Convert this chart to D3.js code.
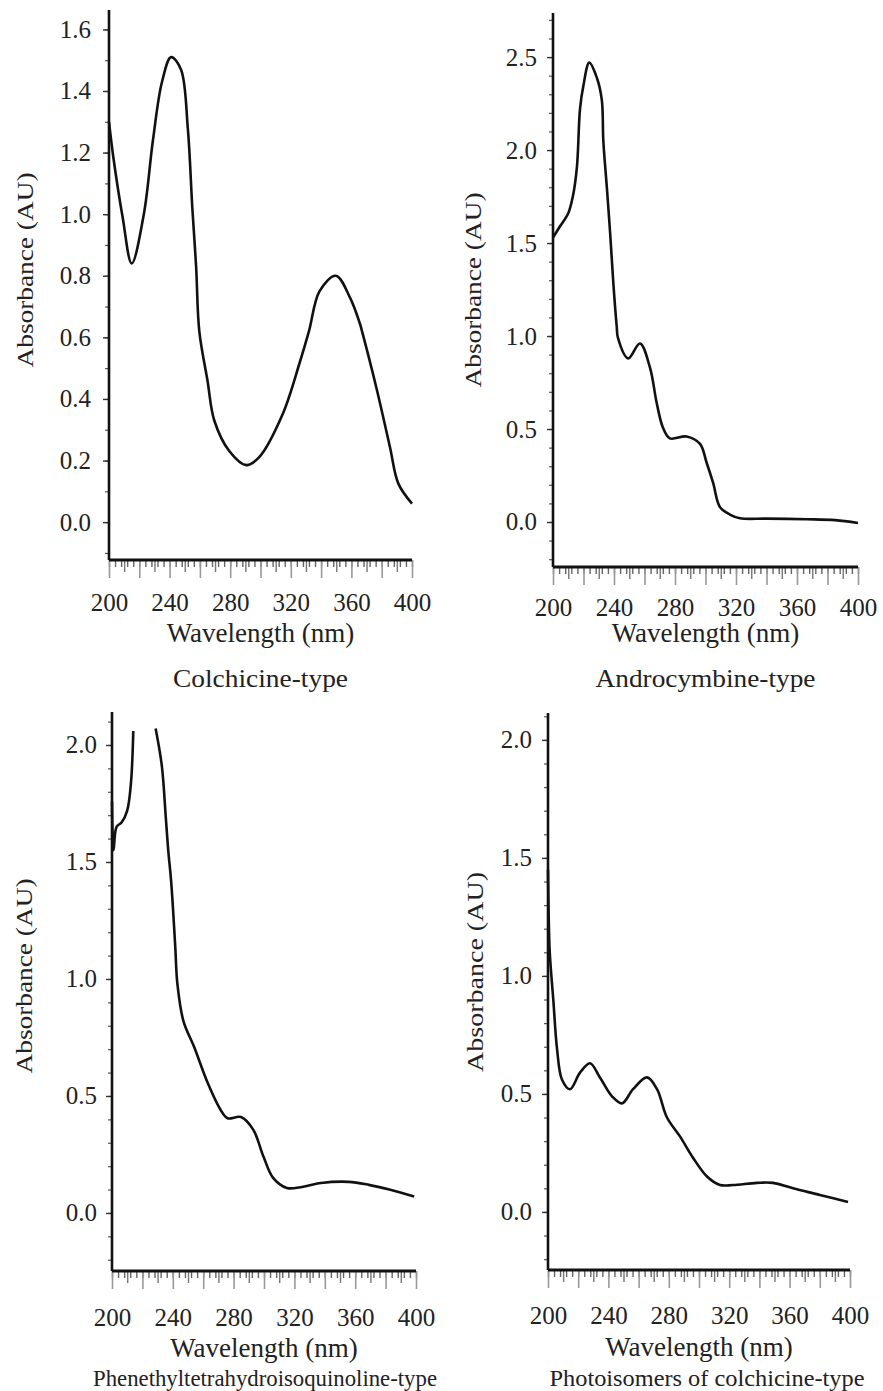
<!DOCTYPE html>
<html>
<head>
<meta charset="utf-8">
<script src="https://cdn.jsdelivr.net/npm/d3@7"></script>
<style>
body { margin: 0; background: #fff; }
svg text { font-family: "Liberation Serif", "Times New Roman", serif; fill: #222; }
</style>
</head>
<body>
<div id="chart"></div>
<script>
// spectra: wavelength (nm) and absorbance (AU)
var colchicineWl  = [200, 203, 209, 215, 223, 229, 235, 241, 247.5, 252, 255, 257.5, 259.6, 265, 269.5, 279.5, 290.5, 299, 314.6, 326, 332, 339, 349.7, 359, 365.6, 367, 376.8, 385.4, 391, 400];
var colchicineAbs = [1.30, 1.18, 0.99, 0.84, 1.00, 1.24, 1.43, 1.51, 1.47, 1.28, 1.02, 0.83, 0.62, 0.46, 0.33, 0.23, 0.185, 0.21, 0.35, 0.52, 0.62, 0.75, 0.80, 0.73, 0.645, 0.62, 0.43, 0.245, 0.125, 0.06];

var androWl  = [200, 204.6, 210, 213, 215.7, 217.7, 219.8, 223.8, 228.7, 232, 233, 235.3, 237.5, 239.6, 241.8, 242.6, 249.3, 257, 263.6, 268, 272, 276.6, 287.6, 296.4, 300.7, 305, 309.5, 316, 322.6, 340, 366.6, 385, 400];
var androAbs = [1.53, 1.59, 1.66, 1.75, 1.91, 2.22, 2.34, 2.47, 2.39, 2.27, 2.05, 1.80, 1.55, 1.28, 1.05, 0.99, 0.88, 0.96, 0.83, 0.64, 0.51, 0.45, 0.46, 0.42, 0.32, 0.21, 0.08, 0.04, 0.02, 0.018, 0.015, 0.01, -0.005];

// null = curve runs off the top of the plot
var phenethylWl  = [200, 201, 203, 206.4, 210, 212.5, 214, 221, 228.7, 232.8, 235.4, 237, 239, 241.6, 243, 247, 254, 263, 271.5, 276, 284.9, 293, 299.7, 306, 315, 324, 337.5, 355.6, 369, 382.5, 398.8];
var phenethylAbs = [1.76, 1.55, 1.65, 1.67, 1.72, 1.84, 2.06, null, 2.07, 1.91, 1.69, 1.55, 1.41, 1.14, 0.98, 0.82, 0.71, 0.555, 0.44, 0.405, 0.41, 0.355, 0.24, 0.15, 0.107, 0.11, 0.128, 0.133, 0.12, 0.10, 0.07];

var photoWl  = [200, 201, 202, 203.5, 206, 209.3, 214.6, 221.2, 227.8, 234.4, 242.4, 249, 256.3, 265.6, 272.2, 278.8, 287.4, 296, 305.3, 313.9, 322.5, 338.4, 349, 362.3, 380, 398.7];
var photoAbs = [1.45, 1.12, 1.02, 0.90, 0.69, 0.56, 0.52, 0.59, 0.63, 0.57, 0.49, 0.46, 0.52, 0.57, 0.52, 0.40, 0.32, 0.23, 0.15, 0.114, 0.114, 0.123, 0.123, 0.10, 0.072, 0.042];

var xTicks = [200, 240, 280, 320, 360, 400];
var yTicksColchicine = [0, 0.2, 0.4, 0.6, 0.8, 1.0, 1.2, 1.4, 1.6];
var yTicksAndro = [0, 0.5, 1.0, 1.5, 2.0, 2.5];
var yTicksPhenethyl = [0, 0.5, 1.0, 1.5, 2.0];
var yTicksPhoto = [0, 0.5, 1.0, 1.5, 2.0];

var panelNames = ["Colchicine-type", "Androcymbine-type", "Phenethyltetrahydroisoquinoline-type", "Photoisomers of colchicine-type"];
var xTitle = "Wavelength (nm)";
var yTitle = "Absorbance (AU)";

var W = 883, H = 1391;

// placement of each panel on the page
var panels = [
    { wl: colchicineWl, abs: colchicineAbs, yTicks: yTicksColchicine, name: panelNames[0],
      xr: [109, 412], yr: [560, 10], yDom: [-0.123, 1.663], xPad: 33, yPad: 12,
      xTitleY: 633, nameY: 678, nameSize: 26, nameLen: 175, nameDx: 0,
      yTitleX: 25, yTitleY: 270, yTitleLen: 195 },
    { wl: androWl, abs: androAbs, yTicks: yTicksAndro, name: panelNames[1],
      xr: [553, 858], yr: [567, 13], yDom: [-0.242, 2.737], xPad: 31, yPad: 10,
      xTitleY: 633, nameY: 678, nameSize: 26, nameLen: 220, nameDx: 0,
      yTitleX: 473, yTitleY: 290, yTitleLen: 195 },
    { wl: phenethylWl, abs: phenethylAbs, yTicks: yTicksPhenethyl, name: panelNames[2],
      xr: [112, 416], yr: [1271, 712], yDom: [-0.248, 2.141], xPad: 37, yPad: 9,
      xTitleY: 1348, nameY: 1378, nameSize: 23, nameLen: 344, nameDx: 1,
      yTitleX: 24, yTitleY: 976, yTitleLen: 195 },
    { wl: photoWl, abs: photoAbs, yTicks: yTicksPhoto, name: panelNames[3],
      xr: [548, 850], yr: [1270, 713], yDom: [-0.246, 2.114], xPad: 36, yPad: 10,
      xTitleY: 1347, nameY: 1378, nameSize: 23, nameLen: 315, nameDx: 8,
      yTitleX: 475, yTitleY: 972, yTitleLen: 200 }
];

var svg = d3.select("#chart").append("svg").attr("width", W).attr("height", H);

function drawPanel(p) {
    var x = d3.scaleLinear().domain([200, 400]).range(p.xr);
    var y = d3.scaleLinear().domain(p.yDom).range(p.yr);
    var g = svg.append("g");
    var x0 = p.xr[0], y0 = p.yr[0];

    // x ticks: dense minor, longer majors, then the labels
    var minorX = g.append("g").attr("transform", "translate(0," + y0 + ")")
        .call(d3.axisBottom(x).tickValues(d3.range(200, 401, 4)).tickSize(7).tickFormat(""));
    var midX = g.append("g").attr("transform", "translate(0," + y0 + ")")
        .call(d3.axisBottom(x).tickValues(d3.range(210, 401, 20)).tickSize(12).tickFormat(""));
    var majorX = g.append("g").attr("transform", "translate(0," + y0 + ")")
        .call(d3.axisBottom(x).tickValues(d3.range(200, 401, 20)).tickSize(18).tickFormat(""));
    var labX = g.append("g").attr("transform", "translate(0," + y0 + ")")
        .call(d3.axisBottom(x).tickValues(xTicks).tickSize(0).tickPadding(p.xPad).tickFormat(d3.format("d")));
    [minorX, midX, majorX, labX].forEach(function(a) { a.select(".domain").remove(); });
    minorX.selectAll("line").attr("stroke", "#666").attr("stroke-width", 1.4);
    midX.selectAll("line").attr("stroke", "#777").attr("stroke-width", 1.4);
    majorX.selectAll("line").attr("stroke", "#999").attr("stroke-width", 1.6);
    labX.selectAll("text").style("font-size", "25px");

    // y ticks
    var minorVals = d3.range(-0.2, 2.75, 0.1).map(function(v) { return Math.round(v * 10) / 10; })
        .filter(function(v) { return v > p.yDom[0] && v < p.yDom[1]; });
    var minorY = g.append("g").attr("transform", "translate(" + x0 + ",0)")
        .call(d3.axisLeft(y).tickValues(minorVals).tickSize(4).tickFormat(""));
    var labY = g.append("g").attr("transform", "translate(" + x0 + ",0)")
        .call(d3.axisLeft(y).tickValues(p.yTicks).tickSize(6).tickPadding(p.yPad).tickFormat(d3.format(".1f")));
    [minorY, labY].forEach(function(a) { a.select(".domain").remove(); });
    minorY.selectAll("line").attr("stroke", "#555").attr("stroke-width", 1.2);
    labY.selectAll("line").attr("stroke", "#333").attr("stroke-width", 1.4);
    labY.selectAll("text").style("font-size", "25px");

    // axis lines
    g.append("line").attr("x1", x0).attr("x2", x0).attr("y1", p.yr[1]).attr("y2", y0)
        .attr("stroke", "#111").attr("stroke-width", 2.6);
    g.append("line").attr("x1", x0).attr("x2", p.xr[1]).attr("y1", y0).attr("y2", y0)
        .attr("stroke", "#111").attr("stroke-width", 3);

    // spectrum
    var pts = p.wl.map(function(w, i) { return [w, p.abs[i]]; });
    var line = d3.line()
        .defined(function(d) { return d[1] != null; })
        .x(function(d) { return x(d[0]); })
        .y(function(d) { return y(d[1]); })
        .curve(d3.curveCatmullRom.alpha(0.5));
    g.append("path").datum(pts).attr("d", line)
        .attr("fill", "none").attr("stroke", "#111").attr("stroke-width", 2.6)
        .attr("stroke-linejoin", "round");

    // titles
    var xMid = (p.xr[0] + p.xr[1]) / 2;
    g.append("text").attr("x", xMid).attr("y", p.xTitleY).attr("dy", "0.35em")
        .attr("text-anchor", "middle").style("font-size", "27px").text(xTitle);
    g.append("text").attr("x", xMid + p.nameDx).attr("y", p.nameY).attr("dy", "0.35em")
        .attr("text-anchor", "middle").style("font-size", p.nameSize + "px")
        .attr("textLength", p.nameLen).attr("lengthAdjust", "spacingAndGlyphs").text(p.name);
    g.append("text").attr("transform", "translate(" + p.yTitleX + "," + p.yTitleY + ") rotate(-90)")
        .attr("dy", "0.35em").attr("text-anchor", "middle").style("font-size", "24px")
        .attr("textLength", p.yTitleLen).attr("lengthAdjust", "spacingAndGlyphs").text(yTitle);
}

panels.forEach(drawPanel);
</script>
</body>
</html>
